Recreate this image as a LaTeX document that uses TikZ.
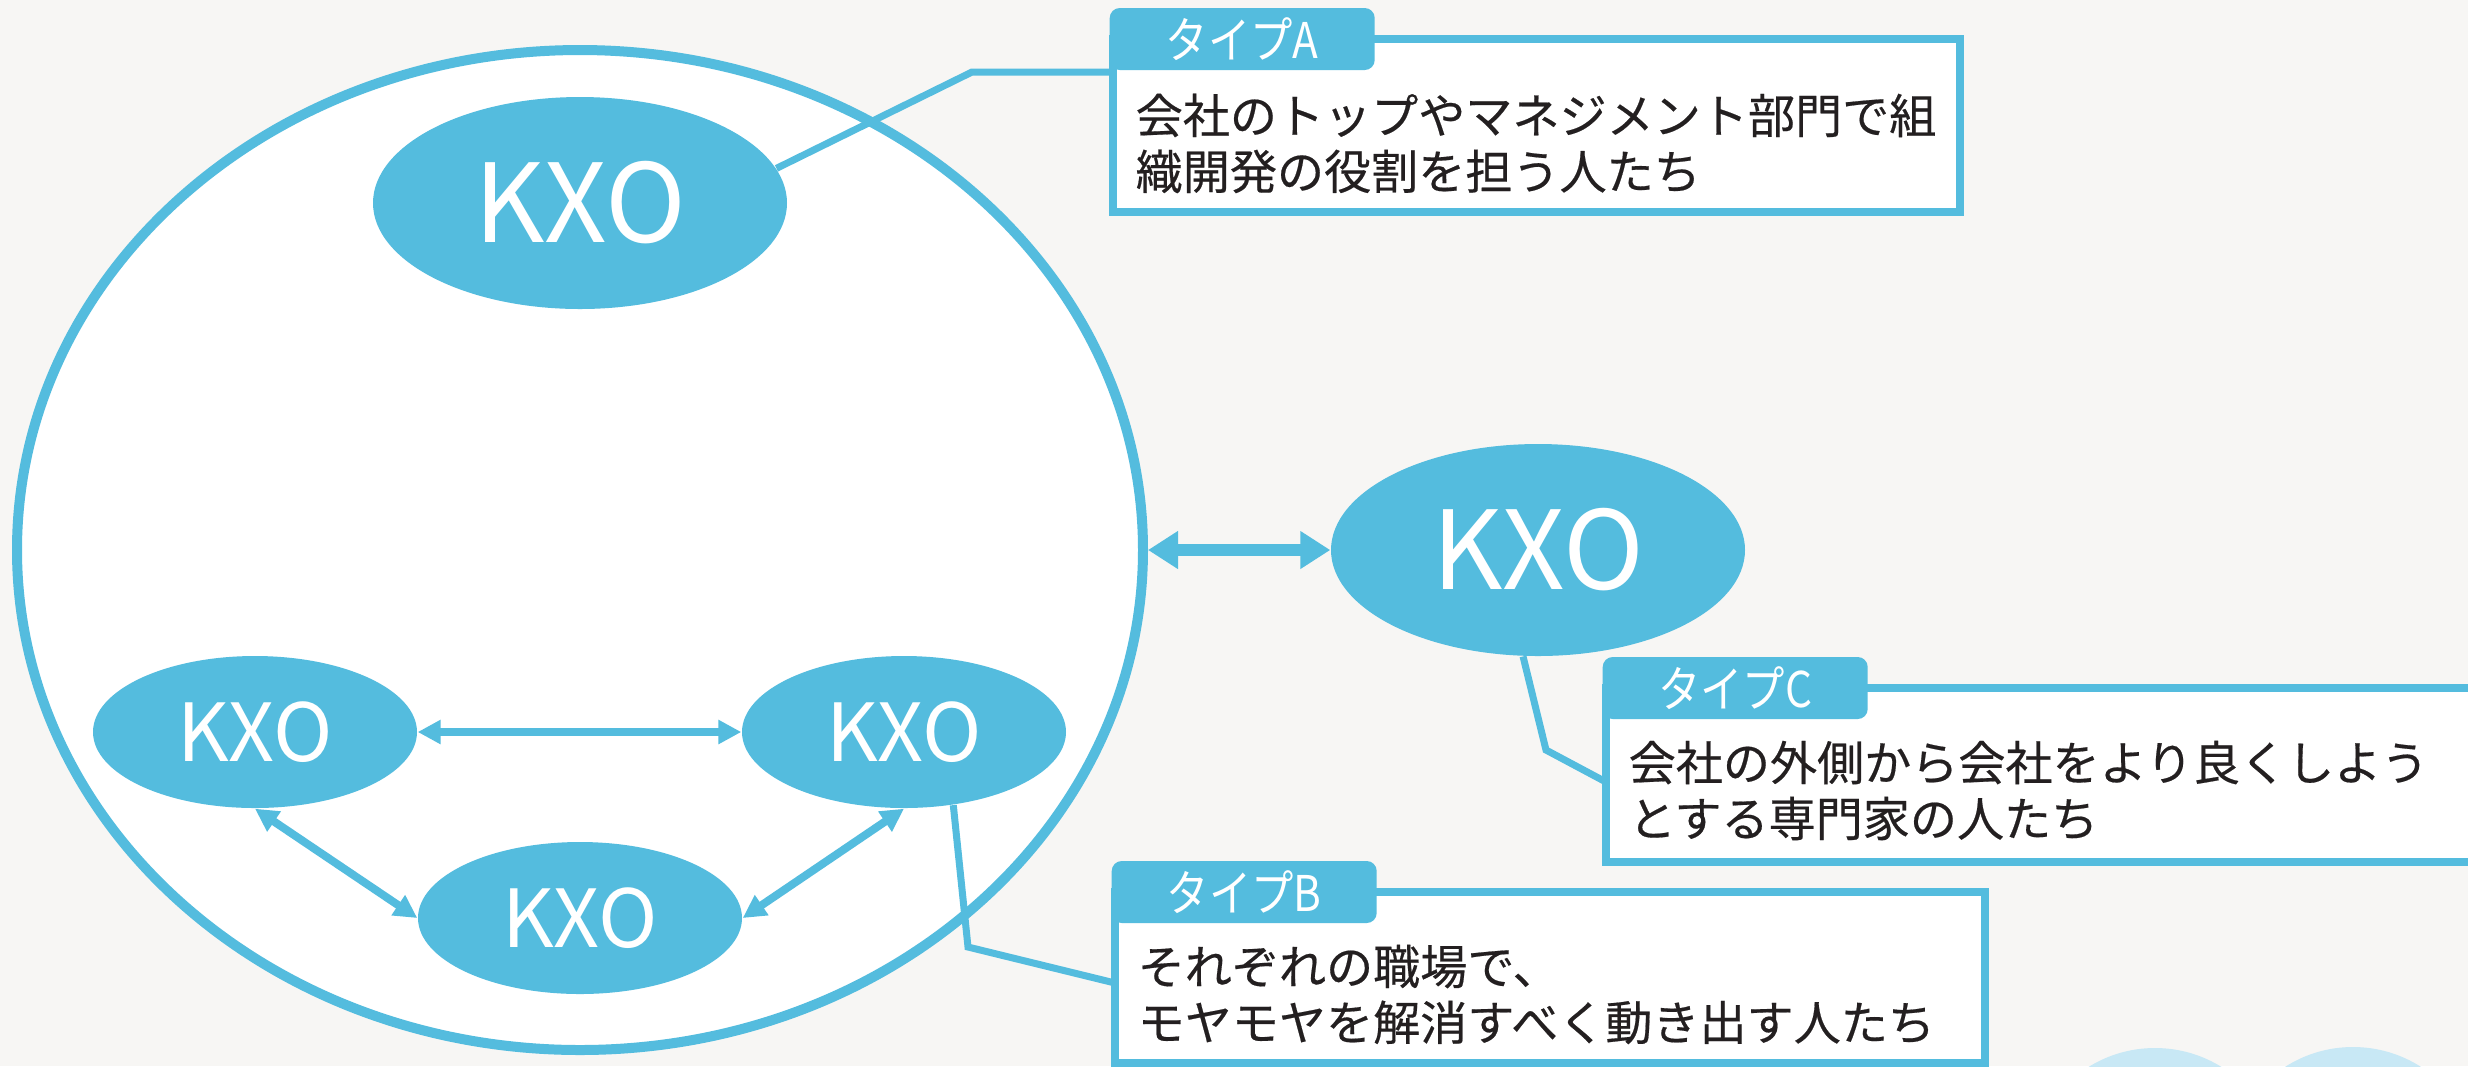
\documentclass[tikz,border=0pt]{standalone}
\usepackage{graphicx}
\usepackage{fontspec}
\setmainfont{Noto Sans CJK JP}
\newfontfamily\boxfont[FakeBold=0.4]{Noto Sans CJK JP}
\usetikzlibrary{arrows.meta,shapes.geometric,positioning}
\definecolor{kxoblue}{RGB}{84,188,222}
\definecolor{paper}{RGB}{247,246,244}
\definecolor{ink}{RGB}{35,31,32}
\definecolor{paleblue}{RGB}{200,232,245}
\newcommand{\typelabel}[1]{\scalebox{0.86}[1]{#1}}
\begin{document}
\begin{tikzpicture}[x=0.1mm, y=-0.1mm,
    kxo/.style={ellipse, fill=kxoblue, text=white, inner sep=0pt},
    bigkxo/.style={kxo, minimum width=41.4mm, minimum height=21.2mm, font=\fontsize{31pt}{31pt}\selectfont},
    smallkxo/.style={kxo, minimum width=32.4mm, minimum height=15.2mm, font=\fontsize{22.8pt}{22.8pt}\selectfont},
    link/.style={kxoblue, line width=0.8mm, {Triangle[length=2.3mm,width=2.3mm]}-{Triangle[length=2.3mm,width=2.3mm]}},
    biglink/.style={kxoblue, line width=1.2mm, {Triangle[length=3mm,width=3.6mm]}-{Triangle[length=3mm,width=3.6mm]}},
    callout/.style={kxoblue, line width=0.7mm, line join=miter},
    infobox/.style={draw=kxoblue, fill=white, line width=0.8mm, outer sep=0pt, inner sep=0pt, anchor=north west},
    typetag/.style={fill=kxoblue, text=white, rounded corners=1mm, minimum width=26.5mm, minimum height=6.2mm, inner sep=0pt, anchor=west, font=\fontsize{14pt}{14pt}\selectfont},
    infotext/.style={text=ink, align=left, inner sep=0pt, anchor=west, font=\boxfont\fontsize{13.4pt}{15.9pt}\selectfont}]
    \useasboundingbox (0,0) rectangle (2468,1066);
    \clip (0,0) rectangle (2468,1066);
    \fill [paper] (0,0) rectangle (2468,1066);
    \fill [paleblue] (2155,1174) circle (12.6mm);
    \fill [paleblue] (2353,1173) circle (12.6mm);

    \node [ellipse, draw=kxoblue, fill=white, line width=1mm, minimum width=112.6mm, minimum height=100mm, inner sep=0pt] (company) at (580,550) {};
    \node [bigkxo] (kxoA) at (580,203) {KXO};
    \node [smallkxo] (kxoL) at (255,732) {KXO};
    \node [smallkxo] (kxoR) at (904,732) {KXO};
    \node [smallkxo] (kxoM) at (580,918) {KXO};
    \node [bigkxo] (kxoC) at (1538,550) {KXO};

    \draw [link] (kxoL) -- (kxoR);
    \draw [link] (kxoL.south) -- (kxoM.west);
    \draw [link] (kxoR.south) -- (kxoM.east);
    \draw [biglink] (company.east) -- (kxoC.west);

    \node [infobox, minimum width=84.7mm, minimum height=17.3mm] (boxA) at (1113,39) {};
    \node [infobox, minimum width=90mm, minimum height=17.4mm] (boxC) at (1606,688) {};
    \node [infobox, minimum width=87mm, minimum height=17.1mm] (boxB) at (1115,892) {};

    \coordinate (bendA) at (972,72);
    \coordinate (bendB) at (968,947);
    \coordinate (bendC) at (1546,750);
    \coordinate (endB) at ([yshift=-9.1mm]boxB.north west);
    \coordinate (endC) at ([yshift=-9.4mm]boxC.north west);
    \draw [callout] (kxoA.10) -- (bendA) -- (bendA -| boxA.west);
    \draw [callout] (kxoR.-56) -- (bendB) -- (endB);
    \draw [callout] (kxoC.-98) -- (bendC) -- (endC);

    \node [typetag] (tagA) at ([xshift=-0.4mm]boxA.north west) {\typelabel{タイプA}};
    \node [typetag] (tagC) at ([xshift=-0.4mm]boxC.north west) {\typelabel{タイプC}};
    \node [typetag] (tagB) at ([xshift=-0.4mm]boxB.north west) {\typelabel{タイプB}};

    \node [infotext] (txtA) at ([xshift=2.2mm, yshift=-10.45mm]boxA.north west) {会社のトップやマネジメント部門で組\\織開発の役割を担う人たち};
    \node [infotext] (txtC) at ([xshift=2.2mm, yshift=-10.25mm]boxC.north west) {会社の外側から会社をより良くしよう\\とする専門家の人たち};
    \node [infotext] (txtB) at ([xshift=2.2mm, yshift=-10.25mm]boxB.north west) {それぞれの職場で、\\モヤモヤを解消すべく動き出す人たち};
\end{tikzpicture}
\end{document}
